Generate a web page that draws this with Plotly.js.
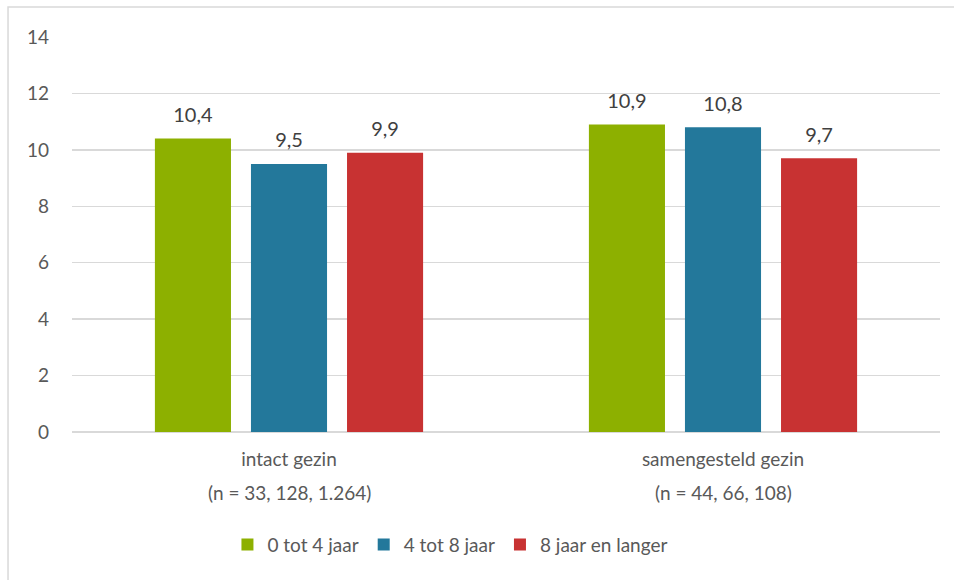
<!DOCTYPE html>
<html>
<head>
<meta charset="utf-8">
<script src="https://cdn.plot.ly/plotly-3.0.1.min.js"></script>
<style>html,body{margin:0;padding:0;background:#fff;}#chart{width:954px;height:580px;}</style>
</head>
<body>
<div id="chart"></div>
<script>
const categories = ["intact gezin", "samengesteld gezin"];
const nLabels = ["(n = 33, 128, 1.264)", "(n = 44, 66, 108)"];
const seriesNames = ["0 tot 4 jaar", "4 tot 8 jaar", "8 jaar en langer"];
const series0to4 = [10.4, 10.9];
const series4to8 = [9.5, 10.8];
const series8plus = [9.9, 9.7];
const seriesColors = ["#8DB000", "#23789B", "#C83232"];
const yTicks = [0, 2, 4, 6, 8, 10, 12, 14];

const FONT = "Lato, 'Open Sans', sans-serif";
const allSeries = [series0to4, series4to8, series8plus];
const GAP = 0.336;

const barTraces = allSeries.map((vals, i) => ({
  type: "bar",
  name: seriesNames[i],
  x: categories,
  y: vals,
  offsetgroup: "g" + i,
  marker: {color: seriesColors[i], line: {width: 0}},
  hoverinfo: "none"
}));

const labelTraces = allSeries.map((vals, i) => ({
  type: "scatter",
  mode: "markers+text",
  x: categories,
  y: vals,
  offsetgroup: "g" + i,
  showlegend: false,
  marker: {size: 17, opacity: 0, color: seriesColors[i]},
  text: vals.map(v => v.toFixed(1).replace(".", ",")),
  textposition: "top center",
  textfont: {family: FONT, size: 20, color: "#404040"},
  cliponaxis: false,
  hoverinfo: "none"
}));

const annotations = categories.map((c, i) => ({
  x: c, xref: "x", y: 0, yref: "paper",
  yshift: -47, yanchor: "top",
  text: nLabels[i], showarrow: false,
  font: {family: FONT, size: 19, color: "#595959"}
}));

const layout = {
  width: 954, height: 580,
  margin: {l: 72, r: 14, t: 37, b: 148},
  paper_bgcolor: "#ffffff", plot_bgcolor: "#ffffff",
  separators: ",.",
  barmode: "group",
  bargap: GAP,
  bargroupgap: 0.208,
  scattermode: "group",
  scattergap: GAP,
  showlegend: true,
  legend: {
    orientation: "h", x: 0.436, xanchor: "center", y: -0.285, yanchor: "middle",
    font: {family: FONT, size: 19, color: "#595959"},
    itemwidth: 30, traceorder: "normal"
  },
  xaxis: {
    type: "category",
    showgrid: false, showline: false, zeroline: false,
    ticks: "", ticklabelstandoff: 14,
    tickfont: {family: FONT, size: 19, color: "#595959"},
    fixedrange: true
  },
  yaxis: {
    range: [0, 14], tickvals: yTicks, ticktext: yTicks.map(String),
    showgrid: true, gridcolor: "#d9d9d9", gridwidth: 1.3,
    zeroline: true, zerolinecolor: "#d9d9d9", zerolinewidth: 1.8,
    showline: false, ticks: "", ticklabelstandoff: 22,
    tickfont: {family: FONT, size: 19, color: "#595959"},
    fixedrange: true
  },
  shapes: [{
    type: "rect", xref: "paper", yref: "paper",
    x0: -0.0737, x1: 1.03, y0: -0.42, y1: 1.076,
    line: {color: "#d9d9d9", width: 1.5}, fillcolor: "rgba(0,0,0,0)", layer: "below"
  }],
  annotations: annotations
};

Plotly.newPlot("chart", barTraces.concat(labelTraces), layout, {displayModeBar: false, staticPlot: true});
</script>
</body>
</html>
